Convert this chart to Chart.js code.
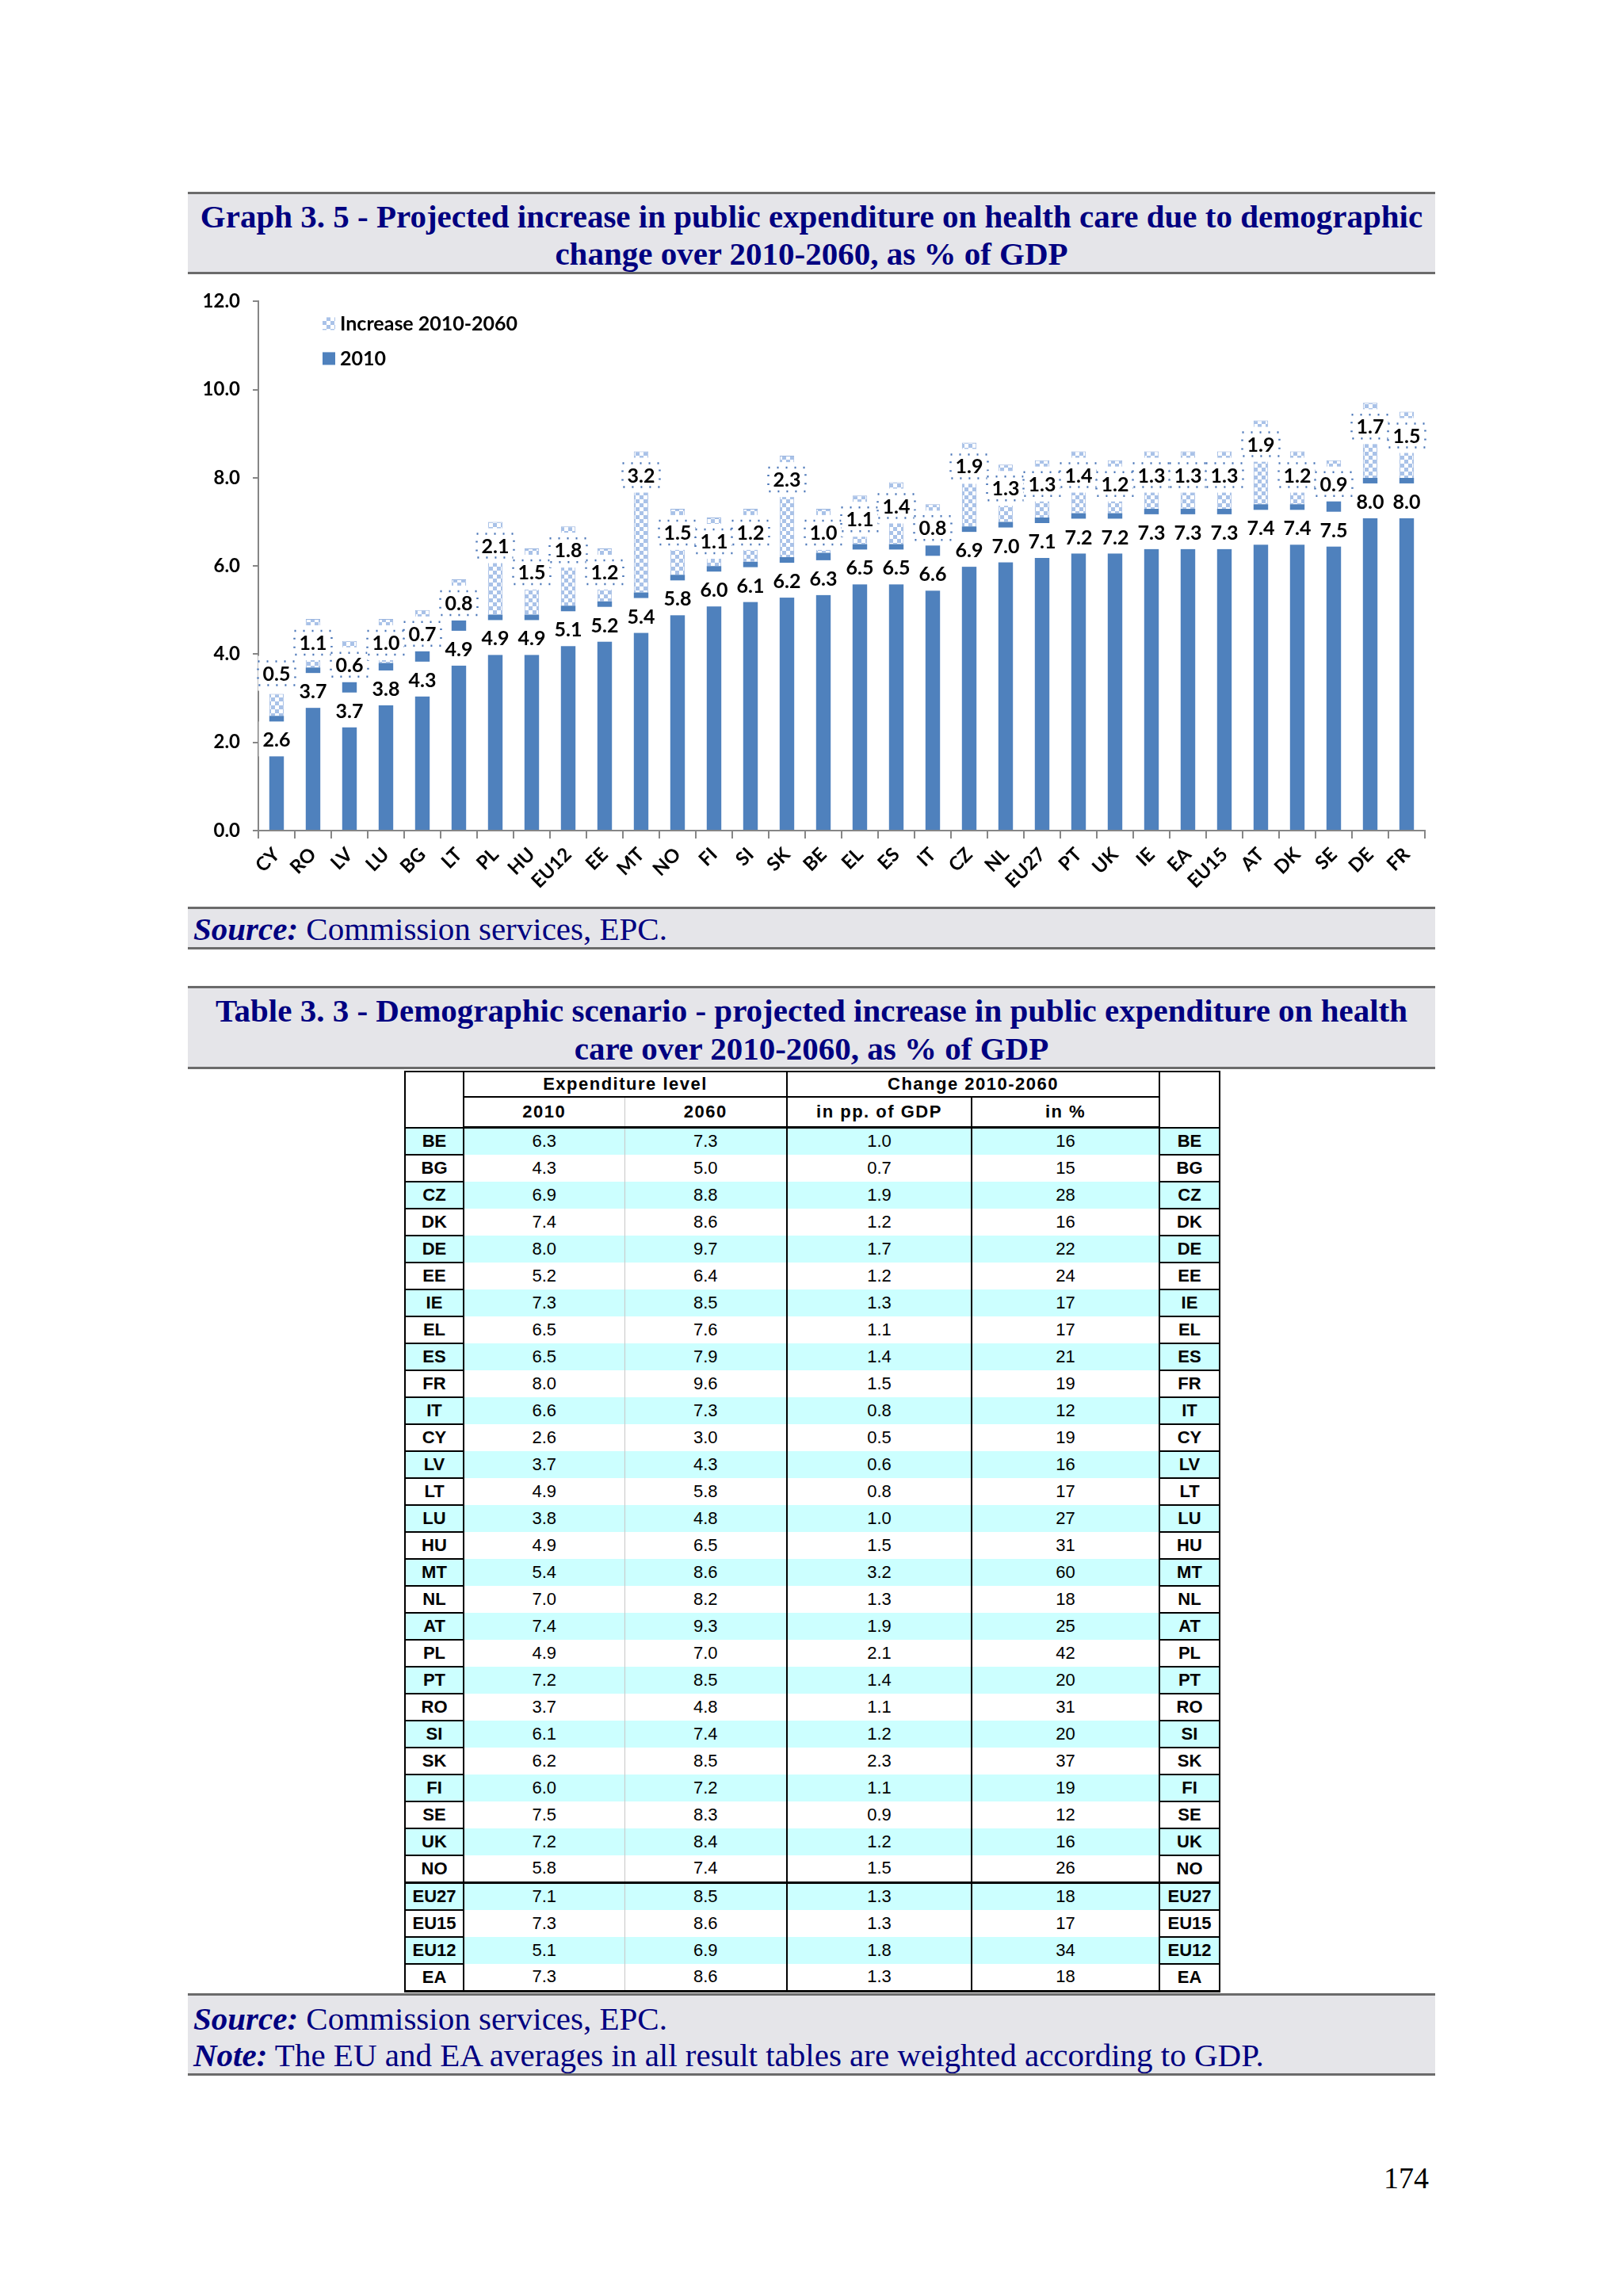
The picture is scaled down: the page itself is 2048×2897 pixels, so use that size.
<!DOCTYPE html>
<html>
<head>
<meta charset="utf-8">
<script src="https://cdn.jsdelivr.net/npm/chart.js@4.4.0/dist/chart.umd.min.js"></script>
<style>
  body { margin: 0; background: #fff; width: 2048px; height: 2897px; position: relative; font-family: "Liberation Serif", "Times New Roman", serif; }
  .band { position: absolute; left: 237px; width: 1574px; background: #e5e5e9; border-top: 3px solid #6b6b6b; border-bottom: 3px solid #6b6b6b; box-sizing: border-box; color: #000080; white-space: nowrap; }
  .ttl { font-weight: bold; font-size: 41px; line-height: 47px; text-align: center; }
  .src { font-size: 41px; line-height: 46px; padding-left: 7px; }
  .src b { font-style: italic; }
  #chartBox { position: absolute; left: 237px; top: 350px; }
  table { position: absolute; left: 510px; top: 1351px; width: 1028px; border-collapse: collapse; table-layout: fixed; font-family: "Liberation Sans", Arial, sans-serif; font-size: 22px; color: #000; }
  th, td { padding: 0; text-align: center; }
  thead th { font-weight: bold; border: 2px solid #000; background: #fff; letter-spacing: 1.5px; }
  thead tr.r1 th { height: 30px; }
  thead tr.r2 th { height: 36px; border-bottom: 3px solid #000; }
  thead th.gl { border-right: 1px solid #c8c8c8; }
  thead th.gr { border-left: 1px solid #c8c8c8; }
  tbody td { height: 32px; border-left: 2px solid #000; border-right: 2px solid #000; }
  tbody td.code { font-weight: bold; border: 2px solid #000; }
  tbody td.c1 { border-right: 1px solid #c8c8c8; }
  tbody td.c2 { border-left: 1px solid #c8c8c8; }
  tbody tr.hl td { background: #ccffff; }
  tbody tr.sep td { border-top: 3px solid #000; }
  tbody tr:last-child td { border-bottom: 3px solid #000; }
  #page { position: absolute; left: 1746px; top: 2726px; font-size: 38px; color: #000; }
</style>
</head>
<body>

<div class="band ttl" style="top:242px;height:104px;padding-top:5px;">Graph 3. 5 - Projected increase in public expenditure on health care due to demographic<br>change over 2010-2060, as % of GDP</div>

<div id="chartBox"><canvas id="myChart" width="1574" height="794"></canvas></div>

<div class="band src" style="top:1144px;height:54px;padding-top:2px;"><b>Source:</b> Commission services, EPC.</div>

<div class="band ttl" style="top:1244px;height:105px;padding-top:4px;line-height:48px;">Table 3. 3 - Demographic scenario - projected increase in public expenditure on health<br>care over 2010-2060, as % of GDP</div>

<table>
  <colgroup><col style="width:74px"><col style="width:203px"><col style="width:205px"><col style="width:233px"><col style="width:237px"><col style="width:76px"></colgroup>
  <thead>
    <tr class="r1"><th rowspan="2"></th><th colspan="2">Expenditure level</th><th colspan="2">Change 2010-2060</th><th rowspan="2"></th></tr>
    <tr class="r2"><th class="gl">2010</th><th class="gr">2060</th><th>in pp. of GDP</th><th>in %</th></tr>
  </thead>
  <tbody id="tbody"></tbody>
</table>

<div class="band src" style="top:2515px;height:104px;padding-top:6px;"><b>Source:</b> Commission services, EPC.<br><b>Note:</b> The EU and EA averages in all result tables are weighted according to GDP.</div>

<div id="page">174</div>

<script>
    // chart data, sorted as in the graph
    let categories = ['CY', 'RO', 'LV', 'LU', 'BG', 'LT', 'PL', 'HU', 'EU12', 'EE', 'MT', 'NO', 'FI', 'SI', 'SK', 'BE',
        'EL', 'ES', 'IT', 'CZ', 'NL', 'EU27', 'PT', 'UK', 'IE', 'EA', 'EU15', 'AT', 'DK', 'SE', 'DE', 'FR'];
    let level2010 = [2.6, 3.7, 3.7, 3.8, 4.3, 4.9, 4.9, 4.9, 5.1, 5.2, 5.4, 5.8, 6.0, 6.1, 6.2, 6.3,
        6.5, 6.5, 6.6, 6.9, 7.0, 7.1, 7.2, 7.2, 7.3, 7.3, 7.3, 7.4, 7.4, 7.5, 8.0, 8.0];
    let increase = [0.5, 1.1, 0.6, 1.0, 0.7, 0.8, 2.1, 1.5, 1.8, 1.2, 3.2, 1.5, 1.1, 1.2, 2.3, 1.0,
        1.1, 1.4, 0.8, 1.9, 1.3, 1.3, 1.4, 1.2, 1.3, 1.3, 1.3, 1.9, 1.2, 0.9, 1.7, 1.5];

    // table data
    let tableCodes = ['BE', 'BG', 'CZ', 'DK', 'DE', 'EE', 'IE', 'EL', 'ES', 'FR', 'IT', 'CY', 'LV', 'LT', 'LU', 'HU',
        'MT', 'NL', 'AT', 'PL', 'PT', 'RO', 'SI', 'SK', 'FI', 'SE', 'UK', 'NO', 'EU27', 'EU15', 'EU12', 'EA'];
    let table2010 = [6.3, 4.3, 6.9, 7.4, 8.0, 5.2, 7.3, 6.5, 6.5, 8.0, 6.6, 2.6, 3.7, 4.9, 3.8, 4.9,
        5.4, 7.0, 7.4, 4.9, 7.2, 3.7, 6.1, 6.2, 6.0, 7.5, 7.2, 5.8, 7.1, 7.3, 5.1, 7.3];
    let table2060 = [7.3, 5.0, 8.8, 8.6, 9.7, 6.4, 8.5, 7.6, 7.9, 9.6, 7.3, 3.0, 4.3, 5.8, 4.8, 6.5,
        8.6, 8.2, 9.3, 7.0, 8.5, 4.8, 7.4, 8.5, 7.2, 8.3, 8.4, 7.4, 8.5, 8.6, 6.9, 8.6];
    let tableChangePP = [1.0, 0.7, 1.9, 1.2, 1.7, 1.2, 1.3, 1.1, 1.4, 1.5, 0.8, 0.5, 0.6, 0.8, 1.0, 1.5,
        3.2, 1.3, 1.9, 2.1, 1.4, 1.1, 1.2, 2.3, 1.1, 0.9, 1.2, 1.5, 1.3, 1.3, 1.8, 1.3];
    let tableChangePct = [16, 15, 28, 16, 22, 24, 17, 17, 21, 19, 12, 19, 16, 17, 27, 31,
        60, 18, 25, 42, 20, 31, 20, 37, 19, 12, 16, 26, 18, 17, 34, 18];

    let tbody = document.getElementById('tbody');
    for (let i = 0; i < tableCodes.length; i++) {
        let tr = document.createElement('tr');
        let cls = [];
        if (i % 2 === 0) cls.push('hl');
        if (tableCodes[i] === 'EU27') cls.push('sep');
        tr.className = cls.join(' ');
        tr.innerHTML = '<td class="code">' + tableCodes[i] + '</td>' +
            '<td class="c1">' + table2010[i].toFixed(1) + '</td>' +
            '<td class="c2">' + table2060[i].toFixed(1) + '</td>' +
            '<td>' + tableChangePP[i].toFixed(1) + '</td>' +
            '<td>' + tableChangePct[i] + '</td>' +
            '<td class="code">' + tableCodes[i] + '</td>';
        tbody.appendChild(tr);
    }

    function checkerPattern() {
        let c = document.createElement('canvas');
        c.width = 10;
        c.height = 10;
        let g = c.getContext('2d');
        g.fillStyle = '#a9c2e8';
        g.fillRect(0, 0, 10, 10);
        g.fillStyle = '#ffffff';
        g.fillRect(0, 0, 5, 5);
        g.fillRect(5, 5, 5, 5);
        return g.createPattern(c, 'repeat');
    }

    const labelFont = 'bold 25px Lato';

    // data labels with white boxes, like the Excel original
    let barLabels = {
        id: 'barLabels',
        afterDatasetsDraw(chart) {
            let ctx = chart.ctx;
            let bars = chart.getDatasetMeta(0).data;
            let tops = chart.getDatasetMeta(1).data;
            ctx.save();
            ctx.font = labelFont;
            ctx.textAlign = 'center';
            ctx.textBaseline = 'middle';

            let incY = tops.map(function (bar) {
                let h = bar.base - bar.y;
                return h < 30 ? bar.y - 26 : bar.y + 30;
            });

            bars.forEach(function (bar, i) {
                let cy = Math.max(bar.y + 30, incY[i] + 58);
                let txt = level2010[i].toFixed(1);
                let w = ctx.measureText(txt).width + 10;
                ctx.fillStyle = '#fff';
                ctx.fillRect(bar.x - w / 2, cy - 23, w, 44);
                ctx.fillStyle = '#000';
                ctx.fillText(txt, bar.x, cy + 1);
            });

            tops.forEach(function (bar, i) {
                let cy = incY[i];
                let txt = increase[i].toFixed(1);
                let w = ctx.measureText(txt).width + 12;
                ctx.fillStyle = '#fff';
                ctx.fillRect(bar.x - w / 2, cy - 22, w, 44);
                ctx.setLineDash([2, 9]);
                ctx.lineWidth = 2.5;
                ctx.strokeStyle = '#4a76b8';
                ctx.strokeRect(bar.x - w / 2, cy - 15, w, 30);
                ctx.setLineDash([]);
                ctx.fillStyle = '#000';
                ctx.fillText(txt, bar.x, cy + 1);
            });
            ctx.restore();
        }
    };

    let cornerLegend = {
        id: 'cornerLegend',
        afterDraw(chart) {
            let ctx = chart.ctx;
            let area = chart.chartArea;
            let items = [chart.data.datasets[1], chart.data.datasets[0]];
            ctx.save();
            ctx.font = labelFont;
            ctx.textBaseline = 'middle';
            items.forEach(function (ds, k) {
                let y = area.top + 28 + k * 44;
                ctx.fillStyle = ds.backgroundColor;
                ctx.fillRect(area.left + 81, y - 8, 16, 16);
                ctx.fillStyle = '#000';
                ctx.fillText(ds.label, area.left + 103, y + 1);
            });
            ctx.restore();
        }
    };

    let axisFont = { family: 'Lato', weight: 'bold', size: 24 };

    let ctx = document.getElementById('myChart').getContext('2d');
    let myChart = new Chart(ctx, {
        type: 'bar',
        data: {
            labels: categories,
            datasets: [{
                label: '2010',
                data: level2010,
                backgroundColor: '#4f81bd',
                barPercentage: 0.4,
                categoryPercentage: 1.0
            }, {
                label: 'Increase 2010-2060',
                data: increase,
                backgroundColor: checkerPattern(),
                borderColor: '#9ab5e0',
                borderWidth: 1,
                barPercentage: 0.4,
                categoryPercentage: 1.0
            }]
        },
        options: {
            responsive: false,
            animation: false,
            layout: { padding: { top: 27, right: 13, left: 0, bottom: 0 } },
            plugins: {
                legend: { display: false },
                tooltip: { enabled: false }
            },
            scales: {
                x: {
                    stacked: true,
                    grid: { offset: true, drawOnChartArea: false, tickLength: 10, color: '#868686', lineWidth: 2 },
                    border: { color: '#868686', width: 2 },
                    ticks: { autoSkip: false, minRotation: 45, maxRotation: 45, padding: 6, color: '#000', font: { family: 'Lato', weight: 'bold', size: 24 } },
                    afterFit: function (s) { s.height = 96; }
                },
                y: {
                    stacked: true,
                    min: 0,
                    max: 12,
                    ticks: { stepSize: 2, padding: 16, color: '#000', font: axisFont, callback: function (v) { return v.toFixed(1); } },
                    grid: { drawOnChartArea: false, tickLength: 7, color: '#868686', lineWidth: 2 },
                    border: { color: '#868686', width: 2 },
                    afterFit: function (s) { s.width = 89; }
                }
            }
        },
        plugins: [barLabels, cornerLegend]
    });
</script>
</body>
</html>
